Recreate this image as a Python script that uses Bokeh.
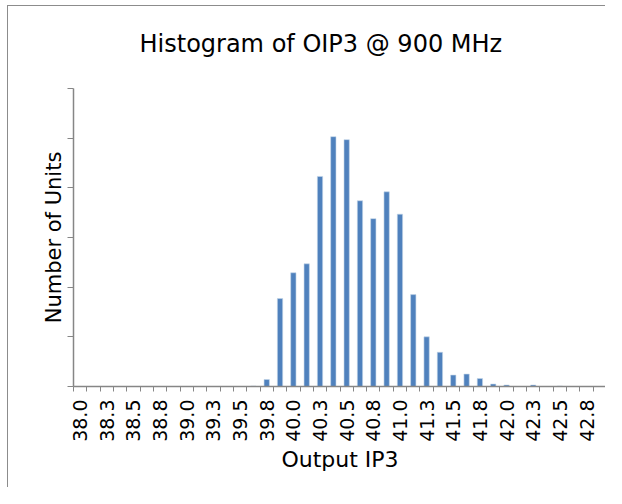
import math
from bokeh.plotting import figure
from bokeh.models import FixedTicker, Range1d, Label
from bokeh.embed import file_html
from bokeh.resources import INLINE

# 0.125 dB bins from 38.000 to 42.875
bin_starts = [38.000, 38.125, 38.250, 38.375, 38.500, 38.625, 38.750, 38.875,
              39.000, 39.125, 39.250, 39.375, 39.500, 39.625, 39.750, 39.875,
              40.000, 40.125, 40.250, 40.375, 40.500, 40.625, 40.750, 40.875,
              41.000, 41.125, 41.250, 41.375, 41.500, 41.625, 41.750, 41.875,
              42.000, 42.125, 42.250, 42.375, 42.500, 42.625, 42.750, 42.875]
counts = [0, 0, 0, 0, 0, 0, 0, 0,
          0, 0, 0, 0, 0, 1, 14, 177,
          229, 247, 423, 503, 497, 374, 338, 392,
          347, 185, 100, 69, 23, 25, 16, 5,
          3, 0, 3, 0, 1, 0, 0, 0]
tick_labels = ["38.0", "38.3", "38.5", "38.8", "39.0", "39.3", "39.5", "39.8",
               "40.0", "40.3", "40.5", "40.8", "41.0", "41.3", "41.5", "41.8",
               "42.0", "42.3", "42.5", "42.8"]
y_ticks = [0, 100, 200, 300, 400, 500, 600]

FONT = "DejaVu Sans"
GRAY = "#868686"

n = len(bin_starts)
xs = [i + 0.5 for i in range(n)]

p = figure(width=598, height=482,
           x_range=Range1d(0, n), y_range=Range1d(0, y_ticks[-1]),
           output_backend="svg", toolbar_location=None,
           min_border_left=65, min_border_right=0,
           min_border_top=82, min_border_bottom=102)
p.styles = {"margin-left": "7px", "margin-top": "5px",
            "border-left": "1px solid #8c8c8c", "border-top": "1px solid #8c8c8c"}
p.outline_line_color = None
p.background_fill_color = "white"
p.border_fill_color = "white"
p.xgrid.visible = False
p.ygrid.visible = False

p.title.text = ""
title = Label(x=66, y=45, x_units="screen", y_units="screen",
              text="Histogram of OIP3 @ 900 MHz", text_align="left",
              text_baseline="alphabetic", text_font=FONT,
              text_font_size="24px", text_color="black")
p.add_layout(title, "above")

p.vbar(x=xs, top=counts, width=0.4, fill_color="#4F81BD",
       line_color="#C6D6EA", line_width=0.6)

# x axis: labels under every other bin, ticks on bin boundaries
xt = FixedTicker(ticks=[xs[i] for i in range(0, n, 2)],
                 minor_ticks=list(range(n + 1)))
xa = p.xaxis[0]
xa.ticker = xt
xa.major_label_overrides = {xs[2 * k]: lbl for k, lbl in enumerate(tick_labels)}
xa.major_label_orientation = math.pi / 2
xa.major_tick_out = 0
xa.major_tick_in = 0
xa.minor_tick_out = 5
xa.minor_tick_in = 0
xa.minor_tick_line_color = GRAY
xa.axis_line_color = GRAY
xa.axis_line_width = 1.5
xa.major_label_standoff = 8
xa.major_label_text_font = FONT
xa.major_label_text_font_size = "19px"
xa.major_label_text_color = "black"
xa.axis_label = "Output IP3"
xa.axis_label_text_font = FONT
xa.axis_label_text_font_size = "22px"
xa.axis_label_text_font_style = "normal"
xa.axis_label_text_color = "black"
xa.axis_label_standoff = 2

ya = p.yaxis[0]
ya.ticker = FixedTicker(ticks=y_ticks, minor_ticks=[])
ya.major_label_overrides = {v: "" for v in y_ticks}
ya.major_tick_out = 6
ya.major_tick_in = 0
ya.major_tick_line_color = GRAY
ya.axis_line_color = GRAY
ya.axis_line_width = 1.5
ya.major_label_standoff = 0
ya.axis_label = "Number of Units"
ya.axis_label_text_font = FONT
ya.axis_label_text_font_size = "21px"
ya.axis_label_text_font_style = "normal"
ya.axis_label_text_color = "black"
ya.axis_label_standoff = 2

open("out.html", "w").write(file_html(p, INLINE))
